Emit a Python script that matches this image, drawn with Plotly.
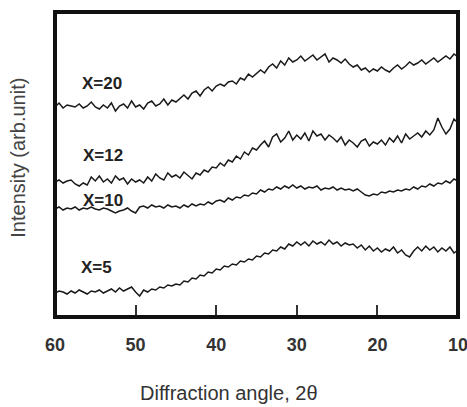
import plotly.graph_objects as go

# 2-theta sampling grid (degrees), from 60 down to 10 in 0.5 steps
angles = [60 - 0.5 * i for i in range(101)]

# Intensities (arbitrary units)
x20 = [210, 214, 209, 212, 211, 210, 213, 209, 211, 215,
       210, 208, 212, 209, 214, 206, 211, 213, 209, 216,
       210,
       212, 208, 214, 216, 211, 213, 218, 212, 217, 215,
       219, 222, 218, 224, 226, 221, 227, 230, 226, 231,
       233, 231, 235, 236, 233, 239, 237, 243, 240, 244,
       247, 244, 250, 253, 249, 256, 252, 259, 255, 257,
       261, 256, 259, 262, 257, 260, 263, 255, 259, 257,
       254, 258, 253, 250, 252, 247, 249, 245, 248, 246,
       250, 247, 245, 249, 252, 248, 251, 255, 252, 254,
       257, 253, 256, 259, 255, 258, 261, 258, 263, 260]

x12 = [135, 137, 134, 136, 137, 133, 131, 134, 132, 140,
       136, 141, 135, 138, 134, 141, 137, 139, 133, 138,
       135,
       137, 134, 140, 136, 143, 139, 137, 144, 140, 142,
       139, 145, 141, 138, 144, 142, 147, 145, 150, 149,
       154, 151, 157, 155, 161, 158, 165, 162, 169, 167,
       172, 176, 170, 180, 183, 175, 179, 186, 177, 182,
       178, 184, 176, 186, 181, 183, 177, 182, 179, 175,
       180, 172, 177, 174, 170, 176, 178, 171, 175, 173,
       177, 172, 179, 175, 181, 174, 183, 178, 181, 184,
       180, 186, 182, 187, 199, 190, 183, 188, 198, 194]

x10 = [108, 110, 107, 109, 108, 110, 107, 109, 108, 110,
       108, 107, 109, 108, 106, 104, 106, 107, 109, 106,
       104,
       110, 111, 109, 112, 110, 111, 109, 112, 110, 111,
       109, 112, 110, 113, 111, 113, 112, 115, 113, 116,
       117, 115, 119, 117, 120, 119, 122, 121, 124, 123,
       127, 125, 128, 127, 130, 128, 131, 129, 132, 129,
       131, 128, 130, 129, 131, 127, 129, 128, 130, 127,
       129, 127, 128, 126, 128, 125, 122, 121, 123, 122,
       125, 124, 126, 125, 127, 126, 128, 127, 130, 128,
       131, 130, 133, 131, 134, 133, 136, 134, 138, 136]

x5 = [24, 26, 25, 23, 26, 24, 27, 25, 23, 26,
      25, 27, 24, 26, 28, 25, 29, 26, 28, 30,
      25,
      21, 27, 25, 28, 27, 30, 29, 32, 31, 33,
      32, 36, 35, 39, 38, 42, 41, 45, 44, 48,
      47, 51, 50, 53, 52, 56, 55, 58, 57, 61,
      60, 64, 63, 67, 66, 70, 68, 73, 71, 75,
      72, 75, 71, 76, 73, 75, 72, 77, 73, 75,
      71, 74, 72, 73, 69, 72, 67, 71, 66, 69,
      65, 68, 66, 70, 64, 67, 62, 60, 66, 70,
      66, 71, 67, 70, 65, 69, 66, 70, 64, 67]

series_names = ["X=20", "X=12", "X=10", "X=5"]
series_values = [x20, x12, x10, x5]
label_pos = [(54.2, 234), (54.0, 162), (54.0, 117), (54.8, 50)]

tick_vals = [60, 50, 40, 30, 20, 10]
tick_text = ["60", "50", "40", "30", "20", "10"]

FONT = "Liberation Sans, Arial"

fig = go.Figure()
for name, vals in zip(series_names, series_values):
    fig.add_trace(go.Scatter(
        x=angles, y=vals, mode="lines", name=name,
        line=dict(color="#1a1a1a", width=1.5),
        showlegend=False, hoverinfo="skip"))

for name, (lx, ly) in zip(series_names, label_pos):
    fig.add_annotation(x=lx, y=ly, xref="x", yref="y", text="<b>" + name + "</b>",
                       xanchor="center", yanchor="middle",
                       showarrow=False, font=dict(family=FONT, size=17, color="#222222"))

fig.add_annotation(x=0.432, y=-0.249, xref="paper", yref="paper", text="Diffraction angle, 2θ",
                   xanchor="center", yanchor="middle",
                   showarrow=False, font=dict(family=FONT, size=20, color="#333333"))
fig.add_annotation(x=-0.092, y=0.522, xref="paper", yref="paper", text="Intensity (arb.unit)",
                   xanchor="center", yanchor="middle",
                   textangle=-90, showarrow=False,
                   font=dict(family=FONT, size=20, color="#444444"))

fig.add_shape(type="rect", xref="paper", yref="paper", x0=0, y0=0, x1=1, y1=1,
              line=dict(color="#111111", width=4), layer="above")

fig.update_xaxes(range=[60, 10], tickmode="array", tickvals=tick_vals, ticktext=tick_text,
                 ticks="inside", ticklen=12, tickwidth=1.5, tickcolor="#333333",
                 ticklabelstandoff=15, automargin=False, ticklabeloverflow="allow",
                 tickfont=dict(family=FONT, size=18, color="#333333", weight="bold"),
                 showgrid=False, zeroline=False, showline=False)
fig.update_yaxes(range=[0, 305], showticklabels=False, ticks="", showgrid=False,
                 zeroline=False, showline=False, automargin=False)

fig.update_layout(width=467, height=407, margin=dict(l=55, r=9, t=12, b=90),
                  paper_bgcolor="white", plot_bgcolor="white")

# remove the default page margin so the figure fills the 467x407 window exactly
fig.write_html("out.html", config={"displayModeBar": False},
               post_script="document.body.style.margin='0';document.body.style.overflow='hidden';")
